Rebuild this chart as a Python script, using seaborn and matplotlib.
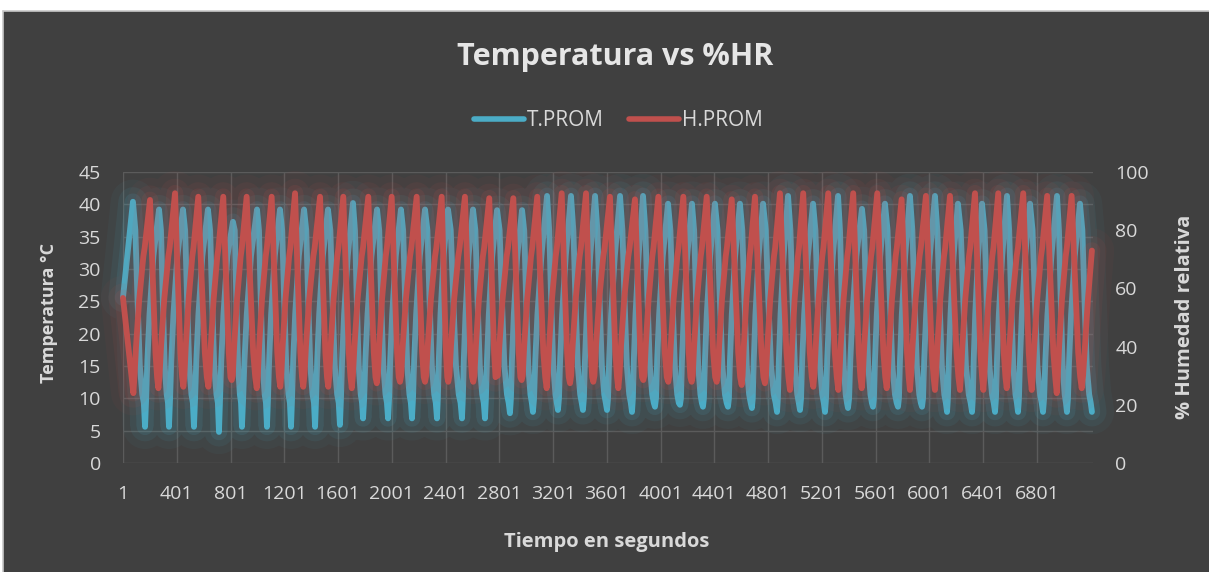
import numpy as np
import pandas as pd
import matplotlib
matplotlib.use("Agg")
import matplotlib.pyplot as plt
import matplotlib.patheffects as pe
from matplotlib.lines import Line2D
from matplotlib.patches import Rectangle
import seaborn as sns

# ---------------- data ----------------
title = "Temperatura vs %HR"
series_names = ["T.PROM", "H.PROM"]
x_label = "Tiempo en segundos"
y_label_left = "Temperatura °C"
y_label_right = "% Humedad relativa"
x_tick_labels = [1, 401, 801, 1201, 1601, 2001, 2401, 2801, 3201, 3601,
                 4001, 4401, 4801, 5201, 5601, 6001, 6401, 6801]
n_samples = 7218
left_ticks = [0, 5, 10, 15, 20, 25, 30, 35, 40, 45]
right_ticks = [0, 20, 40, 60, 80, 100]

# Temperature (T.PROM): first sample, cycle peaks and cycle troughs
t_start = (1, 25.6)
t_peak_idx = [75, 269, 447, 633, 819, 998, 1169, 1348, 1526, 1712,
              1891, 2069, 2248, 2419, 2605, 2784, 2970, 3156, 3334, 3513,
              3699, 3870, 4056, 4234, 4405, 4591, 4763, 4949, 5135, 5321,
              5499, 5670, 5856, 6042, 6213, 6392, 6578, 6749, 6950, 7121]
t_peak_val = [40.4, 39.2, 39.2, 39.2, 37.3, 39.2, 39.2, 39.2, 39.2, 40.2,
              39.2, 39.2, 39.2, 39.2, 39.2, 39.1, 39.1, 41.3, 41.3, 41.3,
              41.3, 41.3, 40.1, 40.1, 40.1, 40.1, 40.1, 41.3, 40.1, 41.3,
              39.3, 40.1, 41.3, 41.3, 40.1, 40.1, 41.3, 40.1, 41.3, 40.1]
t_trough_idx = [165, 343, 529, 715, 886, 1072, 1251, 1430, 1615, 1787,
                1973, 2151, 2337, 2523, 2694, 2880, 3051, 3237, 3423, 3602,
                3788, 3959, 4145, 4316, 4502, 4680, 4867, 5038, 5224, 5395,
                5581, 5767, 5946, 6132, 6318, 6489, 6660, 6846, 7024, 7210]
t_trough_val = [5.6, 5.6, 5.6, 4.8, 5.6, 5.6, 5.6, 5.6, 5.9, 6.9,
                6.9, 6.9, 6.9, 6.9, 6.9, 7.7, 7.9, 8.2, 8.2, 8.2,
                7.9, 8.7, 9.0, 8.7, 8.7, 8.5, 7.9, 8.2, 7.9, 8.5,
                8.7, 8.7, 8.7, 7.9, 7.9, 7.9, 7.9, 7.9, 7.9, 7.9]
# typical in-between samples of one temperature cycle (fraction of the half cycle, value)
t_fall_pos = [0.2, 0.37, 0.57, 0.77, 0.9]
t_fall_val = [36.0, 25.7, 15.0, 10.6, 9.3]
t_rise_pos = [0.08, 0.17, 0.32, 0.6]
t_rise_val = [10.0, 16.0, 23.0, 32.0]

# Relative humidity (H.PROM): first sample, cycle peaks, troughs, last samples
h_start = (1, 56.7)
h_peak_idx = [202, 388, 561, 747, 921, 1107, 1281, 1467, 1640, 1826,
              2000, 2186, 2372, 2545, 2726, 2905, 3083, 3265, 3446, 3624,
              3810, 3984, 4170, 4344, 4530, 4703, 4889, 5062, 5248, 5434,
              5613, 5794, 5975, 6154, 6340, 6513, 6699, 6877, 7059]
h_peak_val = [90.4, 92.7, 91.5, 91.5, 91.5, 91.5, 92.7, 91.5, 91.5, 91.5,
              91.5, 91.5, 91.5, 91.5, 91.0, 91.0, 91.5, 92.7, 92.7, 91.5,
              90.6, 91.5, 91.5, 91.5, 90.6, 91.5, 92.7, 92.7, 92.7, 92.7,
              92.7, 90.6, 91.8, 91.8, 92.7, 92.7, 92.7, 91.8, 91.8]
h_trough_idx = [78, 264, 450, 636, 810, 996, 1171, 1342, 1528, 1703,
                1889, 2062, 2248, 2421, 2607, 2781, 2967, 3153, 3327, 3500,
                3686, 3872, 4058, 4232, 4418, 4604, 4777, 4963, 5137, 5323,
                5497, 5683, 5856, 6042, 6228, 6402, 6576, 6762, 6948, 7134]
h_trough_val = [24.0, 25.7, 26.2, 26.2, 28.5, 25.7, 26.2, 26.2, 26.2, 25.7,
                27.4, 27.9, 27.9, 27.9, 27.9, 30.2, 28.5, 25.7, 27.4, 27.9,
                25.7, 28.5, 27.9, 27.9, 27.9, 26.8, 27.4, 25.1, 26.2, 25.1,
                25.7, 25.7, 25.1, 25.1, 25.1, 25.1, 25.7, 25.1, 24.0, 25.7]
h_end_idx = [7144, 7158, 7180, 7210]
h_end_val = [30.0, 40.0, 56.0, 73.0]
h_fall_pos = [0.3, 0.65, 0.85]
h_fall_val = [66.0, 38.0, 29.5]
h_rise_pos = [0.07, 0.16, 0.35, 0.6, 0.68]
h_rise_val = [30.0, 40.0, 56.0, 71.0, 74.0]


def trace(start, pk_i, pk_v, tr_i, tr_v, fall_pos, fall_val, rise_pos, rise_val,
          tail_i=(), tail_v=()):
    ext = [(start[0], start[1], "s")]
    ext += [(i, v, "p") for i, v in zip(pk_i, pk_v)]
    ext += [(i, v, "t") for i, v in zip(tr_i, tr_v)]
    ext.sort(key=lambda e: e[0])
    xs, ys = [], []
    for a, b in zip(ext[:-1], ext[1:]):
        xs.append(a[0]); ys.append(a[1])
        if a[2] == "p" and b[2] == "t":
            for f, v in zip(fall_pos, fall_val):
                xs.append(a[0] + f * (b[0] - a[0])); ys.append(v)
        elif a[2] == "t" and b[2] == "p":
            for f, v in zip(rise_pos, rise_val):
                xs.append(a[0] + f * (b[0] - a[0])); ys.append(v)
    xs.append(ext[-1][0]); ys.append(ext[-1][1])
    xs += list(tail_i); ys += list(tail_v)
    return pd.DataFrame({"idx": xs, "val": ys})


df_t = trace(t_start, t_peak_idx, t_peak_val, t_trough_idx, t_trough_val,
             t_fall_pos, t_fall_val, t_rise_pos, t_rise_val)
df_h = trace(h_start, h_peak_idx, h_peak_val, h_trough_idx, h_trough_val,
             h_fall_pos, h_fall_val, h_rise_pos, h_rise_val, h_end_idx, h_end_val)

# ---------------- style ----------------
sns.set_theme(style="dark")
plt.rcParams["font.family"] = ["Open Sans", "DejaVu Sans"]

BG = "#404040"
TXT = "#d9d9d9"
GRID = "#5b5b5b"
BLUE = "#4bacc6"
RED = "#c0504d"

W, H = 1209, 572
fig = plt.figure(figsize=(W / 100, H / 100), dpi=100, facecolor="white")
fig.patches.append(Rectangle((3 / W, 0), 1 - 3 / W, 1 - 11 / H, transform=fig.transFigure,
                             facecolor=BG, edgecolor="none", zorder=-10))
fig.lines.append(Line2D([3 / W, 1], [1 - 11 / H, 1 - 11 / H], transform=fig.transFigure,
                        color="#c8c8c8", lw=1.2))
fig.lines.append(Line2D([3 / W, 3 / W], [0, 1 - 11 / H], transform=fig.transFigure,
                        color="#c8c8c8", lw=1.2))

ax = fig.add_axes([123 / W, 1 - 463 / H, 970 / W, 291 / H])
ax.set_facecolor("none")
ax2 = ax.twinx()
ax2.set_facecolor("none")


def glow(c):
    return [pe.Stroke(linewidth=32, foreground=c, alpha=0.05),
            pe.Stroke(linewidth=21, foreground=c, alpha=0.08),
            pe.Stroke(linewidth=12, foreground=c, alpha=0.12),
            pe.Normal()]


sns.lineplot(data=df_t, x="idx", y="val", ax=ax, color=BLUE, linewidth=4.2,
             estimator=None, sort=False, legend=False, clip_on=False,
             solid_joinstyle="round", solid_capstyle="round", path_effects=glow(BLUE))
sns.lineplot(data=df_h, x="idx", y="val", ax=ax2, color=RED, linewidth=4.2,
             estimator=None, sort=False, legend=False, clip_on=False,
             solid_joinstyle="round", solid_capstyle="round", path_effects=glow(RED))

ax.set_xlim(1, n_samples)
ax.set_ylim(0, 45)
ax2.set_ylim(0, 100)
ax.set_xticks(x_tick_labels)
ax.set_xticklabels([str(v) for v in x_tick_labels])
ax.set_yticks(left_ticks)
ax2.set_yticks(right_ticks)

ax.grid(True, color=GRID, lw=1)
ax2.grid(False)
for a in (ax, ax2):
    for s in a.spines.values():
        s.set_visible(False)
ax.tick_params(axis="both", length=0, labelcolor=TXT, labelsize=14)
ax.tick_params(axis="y", pad=16)
ax.tick_params(axis="x", pad=16)
ax2.tick_params(axis="y", length=0, labelcolor=TXT, labelsize=14, pad=16)

ax.set_xlabel(x_label, color=TXT, fontsize=14.5, fontweight="bold")
ax.set_ylabel(y_label_left, color=TXT, fontsize=13, fontweight="bold")
ax2.set_ylabel(y_label_right, color=TXT, fontsize=14.5, fontweight="bold")
ax.xaxis.set_label_coords((607 - 123) / 970, (463 - 532) / 291)
ax.yaxis.set_label_coords((58 - 123) / 970, (463 - 313) / 291)
ax2.yaxis.set_label_coords((1175 - 123) / 970, (463 - 317) / 291)

fig.text(615 / W, 1 - 65 / H, title, ha="center", va="baseline", color="#e6e6e6",
         fontsize=22, fontweight="bold")

handles = [Line2D([], [], color=BLUE, lw=4, solid_capstyle="round"),
           Line2D([], [], color=RED, lw=4, solid_capstyle="round")]
fig.legend(handles, series_names, loc="center", bbox_to_anchor=(618 / W, 1 - 121 / H),
           ncol=2, frameon=False, fontsize=15, labelcolor=TXT, handlelength=2.4,
           handletextpad=0.15, columnspacing=1.2)

fig.savefig("out.png", dpi=100, facecolor=fig.get_facecolor())
